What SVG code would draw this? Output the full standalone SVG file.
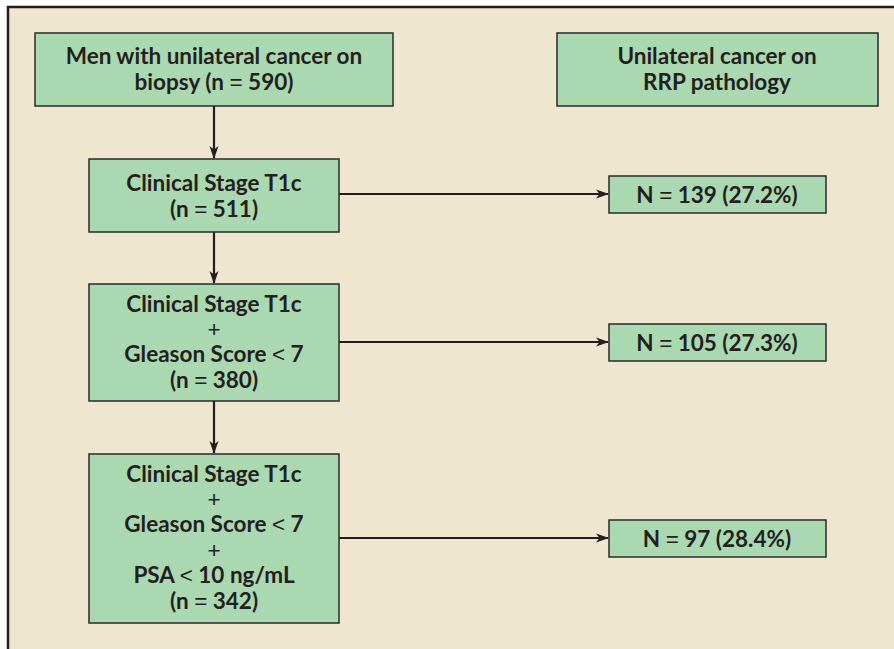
<svg xmlns="http://www.w3.org/2000/svg" width="894" height="649" viewBox="0 0 894 649">
<defs>
<marker id="ah" markerWidth="13" markerHeight="10" refX="12" refY="5" orient="auto" markerUnits="userSpaceOnUse">
<path d="M0,0.5 L13,5 L0,9.5 L3.5,5 Z" fill="#231f20"/>
</marker>
<style>
.box{fill:#aad8b0;stroke:#2a2a2a;stroke-width:1.5}
.t{font-family:Lato,"Open Sans",sans-serif;font-weight:bold;font-size:22.5px;fill:#231f20;text-anchor:middle}
.n{font-family:"Liberation Sans",sans-serif;font-weight:normal}
.c{stroke:#231f20;stroke-width:2.2;fill:none;marker-end:url(#ah)}
</style>
</defs>
<rect x="0" y="0" width="894" height="649" fill="#ffffff"/>
<rect x="8" y="7" width="900" height="660" fill="#efe6d0" stroke="#231f20" stroke-width="2.5"/>
<g id="connectors">
<line class="c" x1="214" y1="106" x2="214" y2="158"/>
<line class="c" x1="214" y1="232" x2="214" y2="283"/>
<line class="c" x1="214" y1="401" x2="214" y2="453"/>
<line class="c" x1="339" y1="194" x2="608" y2="194"/>
<line class="c" x1="339" y1="342" x2="608" y2="342"/>
<line class="c" x1="339" y1="538" x2="608" y2="538"/>
</g>
<g id="n1">
<rect class="box" x="35" y="33" width="358" height="73"/>
<text class="t" x="214" y="64">Men with unilateral cancer on</text>
<text class="t" x="214" y="90">biopsy (n <tspan class="n">=</tspan> 590)</text>
</g>
<g id="n0">
<rect class="box" x="557" y="33" width="321" height="73"/>
<text class="t" x="717" y="64">Unilateral cancer on</text>
<text class="t" x="717" y="90">RRP pathology</text>
</g>
<g id="n2">
<rect class="box" x="89" y="159" width="250" height="73"/>
<text class="t" x="214" y="191">Clinical Stage T1c</text>
<text class="t" x="214" y="217">(n <tspan class="n">=</tspan> 511)</text>
</g>
<g id="n3">
<rect class="box" x="89" y="284" width="250" height="117"/>
<text class="t" x="214" y="312">Clinical Stage T1c</text>
<text class="t n" x="214" y="337">+</text>
<text class="t" x="214" y="362">Gleason Score <tspan class="n">&lt;</tspan> 7</text>
<text class="t" x="214" y="388">(n <tspan class="n">=</tspan> 380)</text>
</g>
<g id="n4">
<rect class="box" x="89" y="454" width="250" height="169"/>
<text class="t" x="214" y="482">Clinical Stage T1c</text>
<text class="t n" x="214" y="507">+</text>
<text class="t" x="214" y="532">Gleason Score <tspan class="n">&lt;</tspan> 7</text>
<text class="t n" x="214" y="558">+</text>
<text class="t" x="214" y="583">PSA <tspan class="n">&lt;</tspan> 10 ng/mL</text>
<text class="t" x="214" y="609">(n <tspan class="n">=</tspan> 342)</text>
</g>
<g id="r1">
<rect class="box" x="609" y="176" width="217" height="37"/>
<text class="t" x="717" y="203">N <tspan class="n">=</tspan> 139 (27.2%)</text>
</g>
<g id="r2">
<rect class="box" x="609" y="324" width="217" height="37"/>
<text class="t" x="717" y="351">N <tspan class="n">=</tspan> 105 (27.3%)</text>
</g>
<g id="r3">
<rect class="box" x="609" y="520" width="217" height="37"/>
<text class="t" x="717" y="547">N <tspan class="n">=</tspan> 97 (28.4%)</text>
</g>
</svg>
